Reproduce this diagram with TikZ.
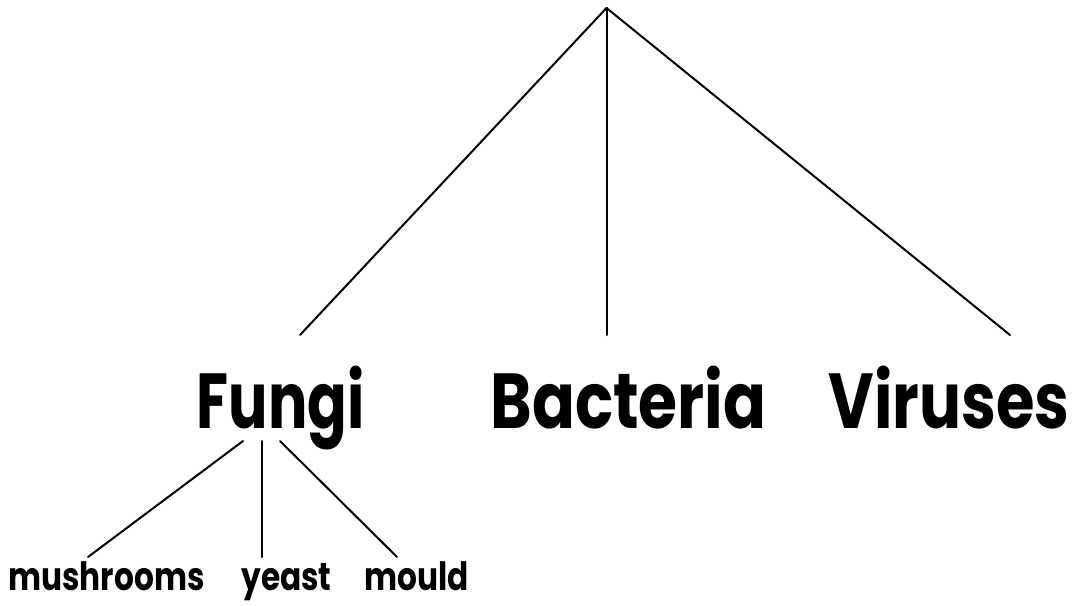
\documentclass[tikz,border=0pt]{standalone}
\usepackage{fontspec}
\setmainfont{Poppins}
\usepackage{graphicx}
\newcommand\bigword[2][0.8]{\scalebox{#1}[1]{\fontsize{78}{80}\selectfont\bfseries #2}}
\newcommand\smallword[1]{\scalebox{0.8}[1]{\fontsize{39}{40}\selectfont\bfseries #1}}
\tikzset{
  lbl/.style={inner sep=0pt, anchor=base},
  link/.style={line width=2pt, line cap=round}
}
\begin{document}
\begin{tikzpicture}[x=1pt,y=-1pt]
\useasboundingbox (0,0) rectangle (1073,605);
\coordinate (top) at (606.5,8);
\node[lbl] (fungi) at (280.5,428) {\bigword[0.75]{Fungi}};
\node[lbl] (bacteria) at (628.5,428) {\bigword[0.81]{Bacteria}};
\node[lbl] (viruses) at (949,428) {\bigword{Viruses}};
\node[lbl] (mush) at (106.5,590) {\smallword{mushrooms}};
\node[lbl] (yeast) at (286.5,590) {\smallword{yeast}};
\node[lbl] (mould) at (416.5,590) {\smallword{mould}};
\coordinate (fT) at (300,335);
\coordinate (bT) at (606.5,335);
\coordinate (vT) at (1010,335);
\coordinate (f1) at (243,441);
\coordinate (f2) at (261.5,441);
\coordinate (f3) at (280,441);
\coordinate (mT) at (88,557);
\coordinate (yT) at (261.5,557);
\coordinate (oT) at (397,557);
\draw[link] (top) -- (fT);
\draw[link] (top) -- (bT);
\draw[link] (top) -- (vT);
\draw[link] (f1) -- (mT);
\draw[link] (f2) -- (yT);
\draw[link] (f3) -- (oT);
\end{tikzpicture}
\end{document}
